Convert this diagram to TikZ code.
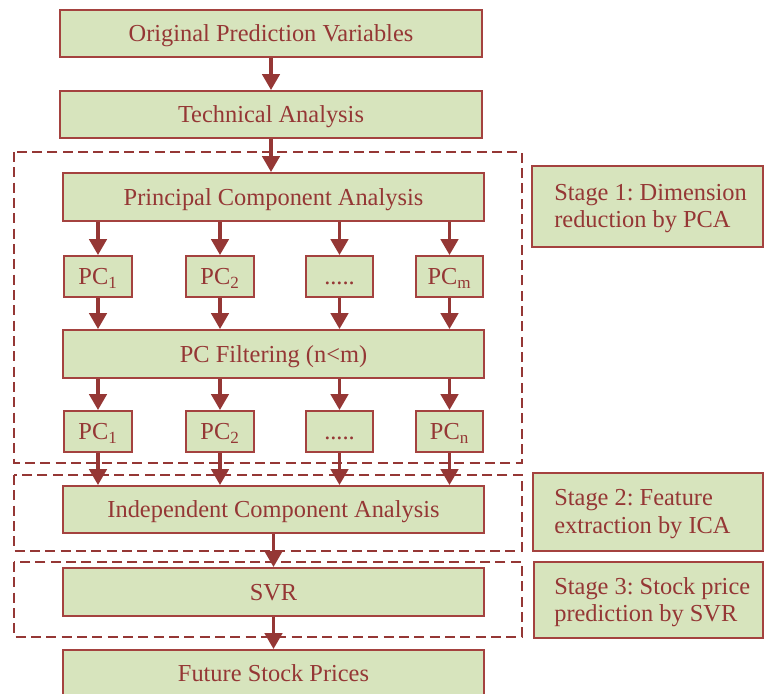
\documentclass[tikz,border=0pt]{standalone}
\usepackage{fontspec}
\setmainfont{Liberation Serif}
\usetikzlibrary{arrows.meta}
\definecolor{darkred}{HTML}{953735}
\definecolor{boxline}{HTML}{A4423F}
\definecolor{boxfill}{HTML}{D7E4BD}
\frenchspacing
\newcommand\mybox[7][]{\node[box,#1, minimum width={(#5-#3)*0.75pt}, minimum height={(#6-#4)*0.75pt}] (#2) at ({(#3+#5)/2},{(#4+#6)/2}) {#7};}
\newcommand\dotsfill{\vphantom{PC\textsubscript{1}}.....}
\begin{document}
\begin{tikzpicture}[x=0.75pt,y=-0.75pt,
  box/.style={draw=boxline, fill=boxfill, line width=1.4pt, text=darkred, inner sep=0pt, text depth=0pt, font=\fontsize{18.3}{20.5}\selectfont},
  stagetext/.style={align=left, inner sep=0pt, text=darkred, font=\fontsize{18.3}{20.5}\selectfont, anchor=west, yshift=-1.5pt},
  arr/.style={draw=darkred, line width=2.7pt, -{Triangle[width=13pt,length=12pt]}},
  stage/.style={draw=darkred, line width=1.5pt, dash pattern=on 7.5pt off 4pt}]
\useasboundingbox (0,0) rectangle (764,693);
% dashed stage frames
\draw[stage] (14,152) rectangle (522,463);
\draw[stage] (14,475) rectangle (522,551);
\draw[stage] (14,562) rectangle (522,637);
% main boxes
\mybox{orig}{60}{10}{482}{57}{Original Prediction Variables}
\mybox{tech}{60}{91}{482}{138}{Technical Analysis}
\mybox{pca}{63}{173}{484}{221}{Principal Component Analysis}
\mybox{pa}{64}{256}{132}{297}{PC\textsubscript{1}}
\mybox{pb}{186}{256}{254}{297}{PC\textsubscript{2}}
\mybox{pc}{306}{256}{373}{297}{\dotsfill}
\mybox{pd}{416}{256}{483}{297}{PC\textsubscript{m}}
\mybox{filt}{63}{330}{484}{378}{PC Filtering (n<m)}
\mybox{qa}{64}{411}{132}{452}{PC\textsubscript{1}}
\mybox{qb}{186}{411}{254}{452}{PC\textsubscript{2}}
\mybox{qc}{306}{411}{373}{452}{\dotsfill}
\mybox{qd}{416}{411}{483}{452}{PC\textsubscript{n}}
\mybox{ica}{63}{486}{484}{533}{Independent Component Analysis}
\mybox{svr}{63}{568}{484}{616}{SVR}
\mybox{fut}{63}{650}{484}{697}{Future Stock Prices}
% stage label boxes
\mybox{s1}{532}{166}{763}{247}{}
\mybox{s2}{533}{473}{763}{551}{}
\mybox{s3}{534}{562}{763}{638}{}
\node[stagetext] (t1) at ([xshift=17.25pt]s1.west) {Stage 1: Dimension\\reduction by PCA};
\node[stagetext] (t2) at ([xshift=16.5pt]s2.west) {Stage 2: Feature\\extraction by ICA};
\node[stagetext] (t3) at ([xshift=15.75pt]s3.west) {Stage 3: Stock price\\prediction by SVR};
% arrows
\draw[arr] (orig.south) -- (orig.south |- tech.north);
\draw[arr] (tech.south) -- (tech.south |- pca.north);
\foreach \n in {pa,pb,pc,pd}{
  \draw[arr] (\n.north |- pca.south) -- (\n.north);
  \draw[arr] (\n.south) -- (\n.south |- filt.north);
}
\foreach \n in {qa,qb,qc,qd}{
  \draw[arr] (\n.north |- filt.south) -- (\n.north);
  \draw[arr] (\n.south) -- (\n.south |- ica.north);
}
\draw[arr] (ica.south) -- (svr.north);
\draw[arr] (svr.south) -- (fut.north);
\end{tikzpicture}
\end{document}
